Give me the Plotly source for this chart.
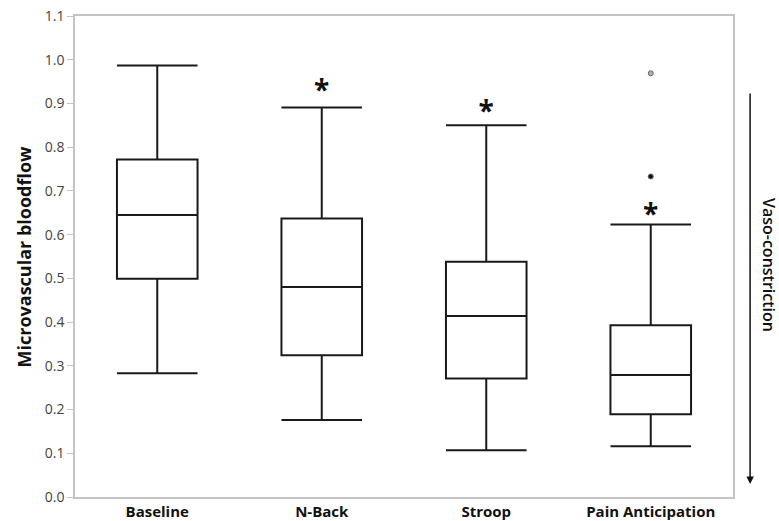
import plotly.graph_objects as go

categories = ["Baseline", "N-Back", "Stroop", "Pain Anticipation"]
lower_whisker = [0.283, 0.176, 0.107, 0.116]
q1 = [0.499, 0.324, 0.271, 0.189]
median = [0.645, 0.480, 0.414, 0.279]
q3 = [0.772, 0.637, 0.538, 0.393]
upper_whisker = [0.987, 0.891, 0.850, 0.623]

outlier_cat = ["Pain Anticipation", "Pain Anticipation"]
outlier_val = [0.969, 0.733]
outlier_fill = ["#b0b0b0", "#111111"]

star_cat = ["N-Back", "Stroop", "Pain Anticipation"]
star_val = [0.925, 0.876, 0.64]

y_ticks = [0.0, 0.1, 0.2, 0.3, 0.4, 0.5, 0.6, 0.7, 0.8, 0.9, 1.0, 1.1]

FONT = "Open Sans"

fig = go.Figure()
fig.add_trace(go.Box(
    x=categories,
    q1=q1, median=median, q3=q3,
    lowerfence=lower_whisker, upperfence=upper_whisker,
    fillcolor="white",
    line=dict(color="#1a1a1a", width=2),
    width=0.49,
    whiskerwidth=1,
    boxpoints=False,
    hoverinfo="skip",
    showlegend=False,
))
fig.add_trace(go.Scatter(
    x=outlier_cat, y=outlier_val, mode="markers",
    marker=dict(size=5, color=outlier_fill, line=dict(color="#666666", width=1)),
    showlegend=False, hoverinfo="skip",
))
fig.add_trace(go.Scatter(
    x=star_cat, y=star_val, mode="text", text=["*"] * len(star_cat),
    textfont=dict(family=FONT, size=28, color="#111111", weight="bold"),
    textposition="middle center",
    showlegend=False, hoverinfo="skip",
))

fig.update_layout(
    width=779, height=521,
    margin=dict(l=75, r=46, t=16, b=24),
    paper_bgcolor="white", plot_bgcolor="white",
    font=dict(family=FONT, color="#111111"),
)
fig.update_xaxes(
    type="category", categoryorder="array", categoryarray=categories,
    range=[-0.5, 3.5], automargin=False,
    showline=True, mirror=True, linecolor="#c4c4c4", linewidth=1.5,
    showgrid=False, ticks="", ticklabelstandoff=0,
    tickfont=dict(family=FONT, size=15, color="#111111", weight="bold"),
)
fig.update_yaxes(
    range=[0, 1.1], tickvals=y_ticks, automargin=False,
    ticktext=[f"{v:.1f}" for v in y_ticks],
    showline=True, mirror=True, linecolor="#c4c4c4", linewidth=1.5,
    showgrid=False, zeroline=False,
    ticks="outside", ticklen=6, tickcolor="#c4c4c4", tickwidth=1,
    tickfont=dict(family=FONT, size=14, color="#444444"),
)

fig.add_annotation(
    text="<b>Microvascular bloodflow</b>", textangle=-90,
    xref="paper", yref="paper", x=-0.079, y=0.5,
    xanchor="center", yanchor="middle",
    showarrow=False, font=dict(family=FONT, size=18, color="#111111"),
)
fig.add_annotation(
    xref="paper", yref="paper", x=1.026, y=0.027,
    ax=0, ay=-392, axref="pixel", ayref="pixel",
    showarrow=True, arrowhead=2, arrowsize=1, arrowwidth=1.5, arrowcolor="#111111",
    text="",
)
fig.add_annotation(
    text="Vaso-constriction", textangle=90,
    xref="paper", yref="paper", x=1.055, y=0.482,
    xanchor="center", yanchor="middle",
    showarrow=False, font=dict(family=FONT, size=16, color="#111111", weight=600),
)

fig.write_html("out.html")
